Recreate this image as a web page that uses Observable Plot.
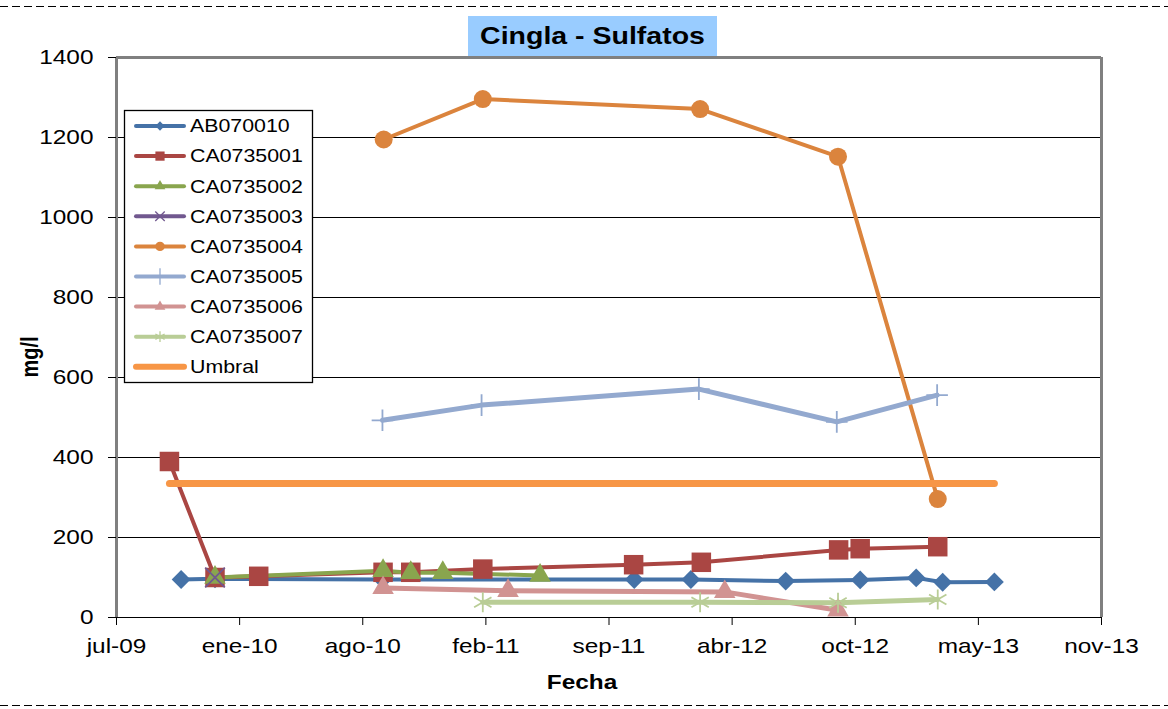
<!DOCTYPE html>
<html>
<head>
<meta charset="utf-8">
<script src="https://cdn.jsdelivr.net/npm/d3@7"></script>
<script src="https://cdn.jsdelivr.net/npm/@observablehq/plot@0.6"></script>
<style>
  html, body { margin: 0; padding: 0; background: #fff; }
  #wrap { position: relative; width: 1168px; height: 709px; overflow: hidden; font-family: "Liberation Sans", Arial, sans-serif; }
  #wrap > svg { position: absolute; left: 0; top: 0; }
  #overlay { position: absolute; left: 0; top: 0; pointer-events: none; }
</style>
</head>
<body>
<div id="wrap"></div>
<script>
// ---------------- data ----------------
const chartTitle = "Cingla - Sulfatos";
const xTitle = "Fecha";
const yTitle = "mg/l";

const xTickDates  = ["2009-07-06","2010-01-22","2010-08-10","2011-02-26","2011-09-14","2012-04-01","2012-10-18","2013-05-06","2013-11-22"];
const xTickLabels = ["jul-09","ene-10","ago-10","feb-11","sep-11","abr-12","oct-12","may-13","nov-13"];
const yTicks = [0, 200, 400, 600, 800, 1000, 1200, 1400];

const AB070010_dates  = ["2009-10-19","2009-12-13","2010-09-11","2011-10-25","2012-01-25","2012-06-27","2012-10-26","2013-01-25","2013-03-09","2013-06-01"];
const AB070010_values = [95, 97, 95, 95, 95, 91, 94, 99, 88, 89];

const CA0735001_dates  = ["2009-09-30","2009-12-13","2010-02-22","2010-09-12","2010-10-27","2011-02-21","2011-10-24","2012-02-11","2012-09-21","2012-10-26","2013-03-01"];
const CA0735001_values = [390, 100, 103, 113, 113, 121, 132, 138, 169, 172, 177];

const CA0735002_dates  = ["2009-12-13","2010-09-12","2010-10-27","2010-12-18","2011-05-25"];
const CA0735002_values = [100, 117, 112, 112, 105];

const CA0735003_dates  = ["2009-12-13"];
const CA0735003_values = [100];

const CA0735004_dates  = ["2010-09-13","2011-02-21","2012-02-09","2012-09-20","2013-03-01"];
const CA0735004_values = [1195, 1296, 1271, 1152, 296];

const CA0735005_dates  = ["2010-09-11","2011-02-19","2012-02-07","2012-09-18","2013-02-28"];
const CA0735005_values = [493, 531, 571, 489, 556];

const CA0735006_dates  = ["2010-09-12","2011-04-03","2012-03-20","2012-09-20"];
const CA0735006_values = [74, 67, 64, 18];

const CA0735007_dates  = ["2011-02-21","2012-02-09","2012-09-20","2013-03-01"];
const CA0735007_values = [38, 38, 37, 45];

const Umbral_dates  = ["2009-09-30","2013-06-01"];
const Umbral_values = [335, 335];

const seriesNames = ["AB070010","CA0735001","CA0735002","CA0735003","CA0735004","CA0735005","CA0735006","CA0735007","Umbral"];

// ---------------- styles ----------------
const styles = {
  AB070010:  {color:"#4572A7", symbol:"diamond2", r:8.5, filled:true,  width:4, lgSize:55},
  CA0735001: {color:"#AA4643", symbol:"square",   r:11,  filled:true,  width:4, lgSize:85},
  CA0735002: {color:"#89A54E", symbol:"triangle", r:8,   filled:true,  width:4, lgSize:50},
  CA0735003: {color:"#71588F", symbol:"times",    r:9,   filled:false, width:4, lgSize:60},
  CA0735004: {color:"#DB843D", symbol:"circle",   r:9,   filled:true,  width:4, lgSize:70},
  CA0735005: {color:"#93A9CF", symbol:"plus",     r:7,   filled:false, width:5, lgSize:90},
  CA0735006: {color:"#D19392", symbol:"triangle", r:8,   filled:true,  width:5, lgSize:50},
  CA0735007: {color:"#B9CD96", symbol:"asterisk", r:9.5, filled:false, width:5, lgSize:80},
  Umbral:    {color:"#F79646", symbol:null,       r:0,   filled:false, width:7, lgSize:0}
};

const parse = d3.utcParse("%Y-%m-%d");
const rawData = {
  AB070010:[AB070010_dates,AB070010_values], CA0735001:[CA0735001_dates,CA0735001_values],
  CA0735002:[CA0735002_dates,CA0735002_values], CA0735003:[CA0735003_dates,CA0735003_values],
  CA0735004:[CA0735004_dates,CA0735004_values], CA0735005:[CA0735005_dates,CA0735005_values],
  CA0735006:[CA0735006_dates,CA0735006_values], CA0735007:[CA0735007_dates,CA0735007_values],
  Umbral:[Umbral_dates,Umbral_values]
};
const rowsOf = name => rawData[name][0].map((d,i) => ({series:name, date:parse(d), value:rawData[name][1][i]}));

const xTicks = xTickDates.map(parse);
const labelByTime = new Map(xTicks.map((d,i) => [+d, xTickLabels[i]]));
const xDomain = [xTicks[0], xTicks[xTicks.length-1]];
const STRETCH = 1.22;

// ---------------- marks ----------------
const marks = [
  Plot.gridY(yTicks.filter(v => v > 0 && v < 1400), {stroke:"#000", strokeOpacity:1, strokeWidth:1}),
  Plot.ruleY([0], {stroke:"#000", strokeWidth:1}),
  Plot.ruleY([1400], {stroke:"#808080", strokeWidth:3}),
  Plot.ruleX(xDomain, {stroke:"#808080", strokeWidth:3}),
  Plot.axisY({ticks:yTicks, tickFormat:d => String(d), tickSize:8, tickPadding:15, label:null, stroke:"#000"}),
  Plot.axisX({ticks:xTicks, tickFormat:d => labelByTime.get(+d), tickSize:8, tickPadding:13, label:null, stroke:"#000"})
];
// lines (drawn first, in series order)
for (const name of seriesNames) {
  const s = styles[name];
  marks.push(Plot.line(rowsOf(name), {x:"date", y:"value", stroke:s.color, strokeWidth:s.width,
    strokeLinecap:"round", strokeLinejoin:"round"}));
}
// markers on top
for (const name of seriesNames) {
  const s = styles[name];
  if (!s.symbol) continue;
  marks.push(Plot.dot(rowsOf(name), s.filled
    ? {x:"date", y:"value", symbol:s.symbol, r:s.r, fill:s.color, stroke:"none"}
    : {x:"date", y:"value", symbol:s.symbol, r:s.r, fill:"none", stroke:s.color, strokeWidth:1.8}));
}

const chart = Plot.plot({
  width: 1168,
  height: 709,
  marginLeft: 116,
  marginRight: 67,
  marginTop: 57,
  marginBottom: 92,
  x: {type:"utc", domain:xDomain},
  y: {domain:[0,1400]},
  style: {fontFamily:"'Liberation Sans', Arial, sans-serif", fontSize:"20px", color:"#000", background:"transparent", overflow:"visible"},
  marks
});
document.getElementById("wrap").appendChild(chart);

// horizontally stretch the tick labels like the reference
d3.select(chart).selectAll("g[aria-label='x-axis tick label'] text, g[aria-label='y-axis tick label'] text")
  .each(function() {
    const t = this.getAttribute("transform") || "";
    this.setAttribute("transform", t + ` scale(${STRETCH},1)`);
  });

// ---------------- overlay: dashed borders, titles, legend ----------------
const ov = d3.select("#wrap").append("svg").attr("id","overlay")
  .attr("width",1168).attr("height",709)
  .style("font-family","'Liberation Sans', Arial, sans-serif");

ov.selectAll("line.dash").data([6, 705]).join("line").attr("class","dash")
  .attr("x1",0).attr("x2",1168).attr("y1",d=>d+0.5).attr("y2",d=>d+0.5)
  .attr("stroke","#000").attr("stroke-width",1).attr("stroke-dasharray","8,4");

// title
ov.append("rect").attr("x",468).attr("y",16).attr("width",249).attr("height",40).attr("fill","#99CCFF");
ov.append("text").attr("transform",`translate(592.5,44) scale(1.24,1)`).attr("text-anchor","middle")
  .attr("font-size",23).attr("font-weight","bold").attr("fill","#000").text(chartTitle);

// axis titles
ov.append("text").attr("transform",`translate(582,689) scale(${STRETCH},1)`).attr("text-anchor","middle")
  .attr("font-size",20).attr("font-weight","bold").text(xTitle);
ov.append("text").attr("transform",`translate(38,357) scale(${STRETCH},1) rotate(-90)`).attr("text-anchor","middle")
  .attr("font-size",20).attr("font-weight","bold").text(yTitle);

// legend
const lg = ov.append("g").attr("transform","translate(124,110)");
lg.append("rect").attr("x",0.5).attr("y",0.5).attr("width",188).attr("height",272)
  .attr("fill","#fff").attr("stroke","#000").attr("stroke-width",1.3);
const symbolMap = {diamond2:d3.symbolDiamond2, square:d3.symbolSquare, triangle:d3.symbolTriangle,
  times:d3.symbolTimes, circle:d3.symbolCircle, plus:d3.symbolPlus, asterisk:d3.symbolAsterisk};
seriesNames.forEach((name, i) => {
  const s = styles[name];
  const cy = 16 + i * 30.1;
  const g = lg.append("g");
  g.append("line").attr("x1",12).attr("x2",60).attr("y1",cy).attr("y2",cy)
    .attr("stroke",s.color).attr("stroke-width", name === "Umbral" ? 6 : 4).attr("stroke-linecap","round");
  if (s.symbol) {
    const p = g.append("path").attr("transform",`translate(36,${cy})`)
      .attr("d", d3.symbol(symbolMap[s.symbol], s.lgSize)());
    if (s.filled) p.attr("fill",s.color); else p.attr("fill","none").attr("stroke",s.color).attr("stroke-width",1.3);
  }
  g.append("text").attr("transform",`translate(66,${cy + 6.3}) scale(${STRETCH},1)`)
    .attr("font-size",17.5).attr("fill","#000").text(name);
});
</script>
</body>
</html>
